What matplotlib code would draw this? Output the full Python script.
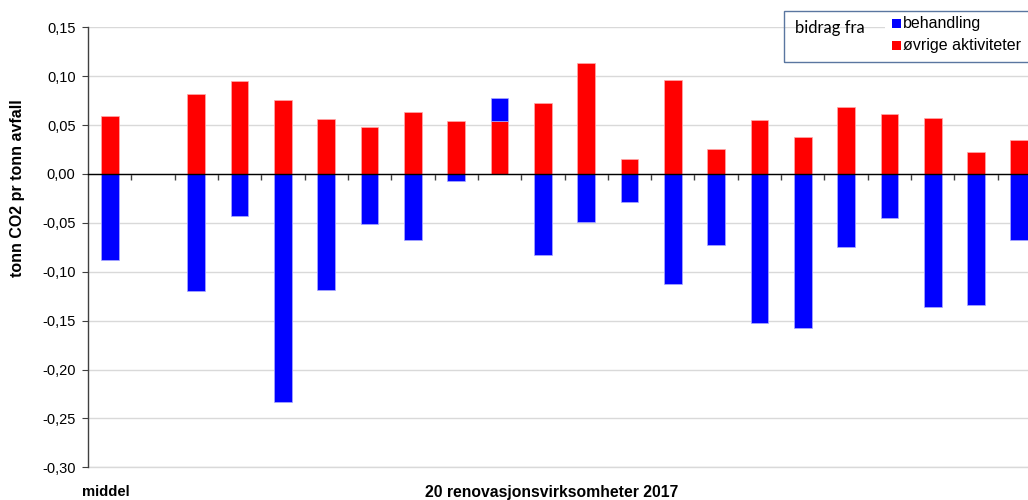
import matplotlib
matplotlib.use("Agg")
import matplotlib.pyplot as plt
from matplotlib.patches import Rectangle
from matplotlib.ticker import FuncFormatter
import numpy as np

# ── Data ──────────────────────────────────────────────────────
categories = ["middel", ""] + [f"v{i}" for i in range(1, 21)]
ovrige = [0.059, np.nan,
          0.0815, 0.095, 0.0753, 0.056, 0.0477, 0.0634, 0.0542, 0.0542, 0.0723, 0.1135,
          0.0153, 0.0958, 0.0252, 0.0552, 0.0375, 0.0682, 0.0617, 0.0576, 0.0222, 0.0348]
behandling = [-0.0883, np.nan,
              -0.1196, -0.0433, -0.2331, -0.1183, -0.0508, -0.0672, -0.0075, 0.024, -0.0832, -0.049,
              -0.0286, -0.1125, -0.0726, -0.1524, -0.1578, -0.075, -0.045, -0.136, -0.1336, -0.0678]
yticks = [-0.30, -0.25, -0.20, -0.15, -0.10, -0.05, 0.0, 0.05, 0.10, 0.15]

RED = "#ff0000"
BLUE = "#0000ff"
FONT = "Liberation Sans"

# ── Canvas ────────────────────────────────────────────────────
fig = plt.figure(figsize=(10.28, 5.0), dpi=100)
fig.patch.set_facecolor("white")
L, R = 88 / 1028, 1041 / 1028
T, B = 1 - 27.3 / 500, 1 - 467.3 / 500
ax = fig.add_axes([L, B, R - L, T - B])
ax.set_facecolor("none")

x = np.arange(len(categories))
ov = np.array(ovrige)
be = np.array(behandling)
be_bottom = np.where(be > 0, ov, 0.0)

w = 0.41
ax.bar(x, ov, width=w, color=RED, edgecolor="#ffaaaa", linewidth=0.5, zorder=3)
ax.bar(x, be, width=w, bottom=be_bottom, color=BLUE, edgecolor="#aaaaff",
       linewidth=0.5, zorder=3)

# ── Axes styling ──────────────────────────────────────────────
ax.set_xlim(-0.5, len(categories) - 0.5)
ax.set_ylim(-0.30, 0.15)
ax.set_yticks(yticks)
ax.yaxis.set_major_formatter(FuncFormatter(lambda v, p: f"{v:.2f}".replace(".", ",")))
ax.tick_params(axis="y", direction="out", length=4, width=0.8, color="#404040",
               labelsize=10.5, pad=5, labelcolor="#000000")
for lbl in ax.get_yticklabels():
    lbl.set_family(FONT)
ax.yaxis.grid(True, color="#d9d9d9", linewidth=1.0, zorder=0)
ax.xaxis.grid(False)
ax.axhline(-0.30, color="#d9d9d9", linewidth=1.0, zorder=0, clip_on=False)

ax.spines["top"].set_visible(False)
ax.spines["right"].set_visible(False)
ax.spines["left"].set_color("#404040")
ax.spines["left"].set_linewidth(1.0)
ax.spines["bottom"].set_position(("data", 0))
ax.spines["bottom"].set_color("#000000")
ax.spines["bottom"].set_linewidth(1.0)
ax.spines["bottom"].set_zorder(4)
ax.set_xticks(np.arange(0.5, len(categories) - 0.5, 1.0))
ax.set_xticklabels([])
ax.tick_params(axis="x", direction="out", length=4, width=1.0, color="#404040")

fig.text(18 / 1028, 1 - 188 / 500, "tonn CO2 pr tonn avfall", fontsize=11.5,
         fontweight="bold", family=FONT, rotation=90, ha="center", va="center")

# ── Bottom labels ─────────────────────────────────────────────
fig.text(82 / 1028, 1 - 492 / 500, "middel", fontsize=10.7, fontweight="bold",
         family=FONT, ha="left", va="center")
fig.text(552 / 1028, 1 - 492 / 500, "20 renovasjonsvirksomheter 2017", fontsize=11.3,
         fontweight="bold", family=FONT, ha="center", va="center")

# ── Legend box ────────────────────────────────────────────────
fig.patches.append(Rectangle((885 / 1028, 1 - 62 / 500), 160 / 1028, 51 / 500,
                             transform=fig.transFigure, facecolor="white",
                             edgecolor="none", zorder=5))
fig.patches.append(Rectangle((784 / 1028, 1 - 62 / 500), 260 / 1028, 51 / 500,
                             transform=fig.transFigure, facecolor="none",
                             edgecolor="#5a76a0", linewidth=1.0, zorder=6))
fig.text(795 / 1028, 1 - 28 / 500, "bidrag fra", fontsize=12, family="Lato",
         ha="left", va="center", zorder=7)
for ypix, col, txt in [(23.5, BLUE, "behandling"), (45.5, RED, "øvrige aktiviteter")]:
    fig.patches.append(Rectangle((892 / 1028, 1 - (ypix + 4) / 500), 8.5 / 1028, 8.5 / 500,
                                 transform=fig.transFigure, facecolor=col,
                                 edgecolor="none", zorder=7))
    fig.text(903 / 1028, 1 - ypix / 500, txt, fontsize=11.5, family=FONT,
             ha="left", va="center", zorder=7)

plt.savefig("out.png", dpi=100, facecolor=fig.get_facecolor())
plt.close()
